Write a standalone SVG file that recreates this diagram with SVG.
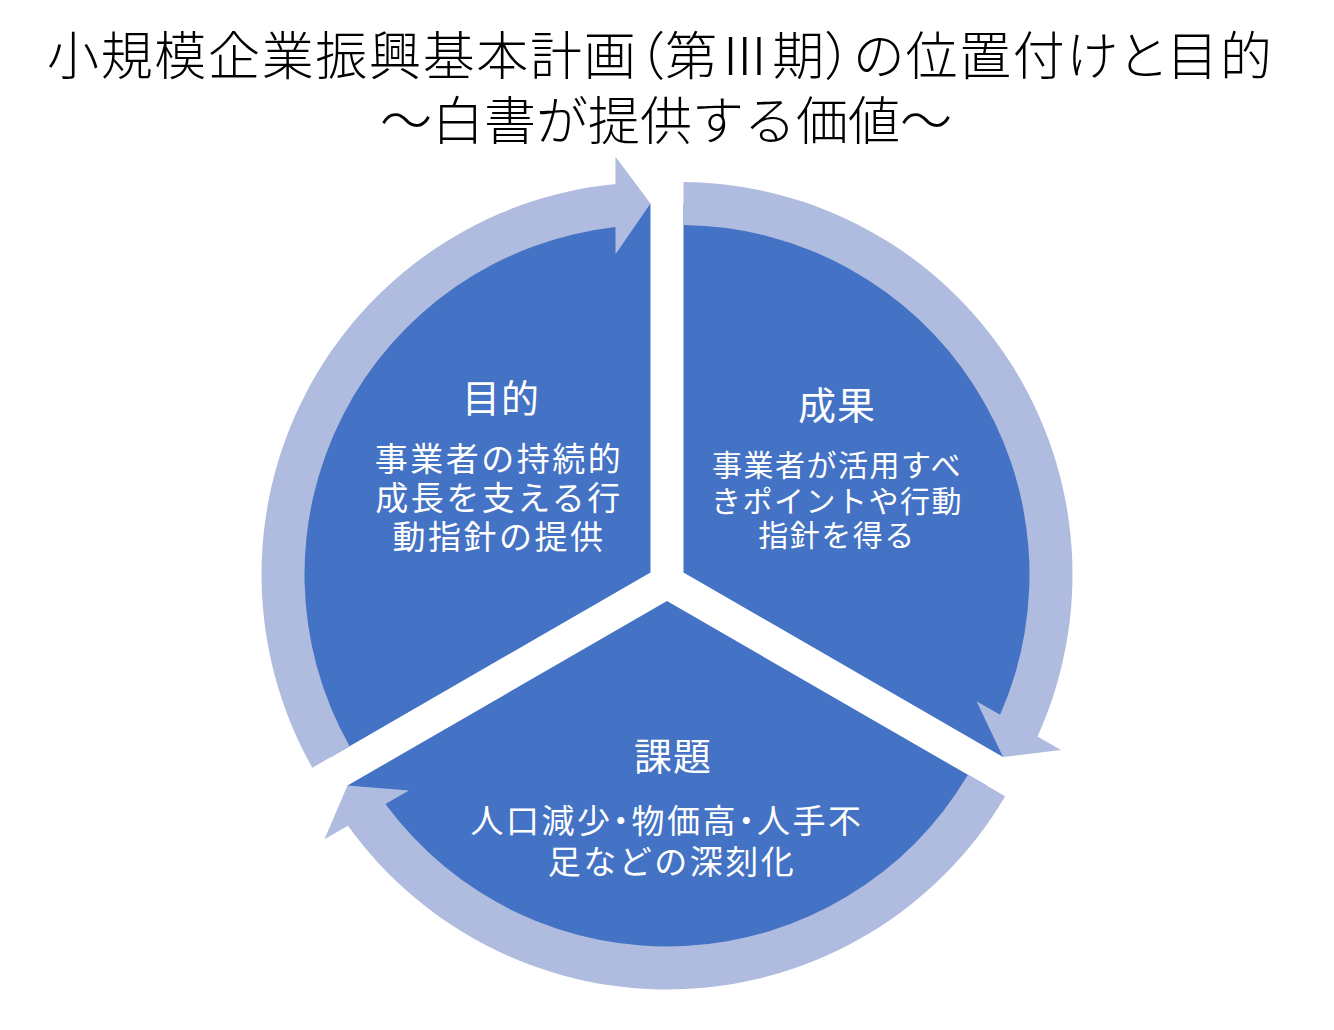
<svg xmlns="http://www.w3.org/2000/svg" width="1334" height="1030" viewBox="0 0 1334 1030">
<style>
.seg{fill:#4472C4}
.arr{fill:#B0BCDF}
.title{font-family:"Noto Sans CJK JP","Noto Sans CJK SC",sans-serif;font-size:52px;font-weight:300;fill:#000}
.hd{font-family:"Noto Sans CJK JP","Noto Sans CJK SC",sans-serif;font-size:38px;fill:#fff;text-anchor:middle;letter-spacing:1px}
.bd{font-family:"Noto Sans CJK JP","Noto Sans CJK SC",sans-serif;font-size:33px;fill:#fff;text-anchor:middle;letter-spacing:2.5px}
.bds{font-family:"Noto Sans CJK JP","Noto Sans CJK SC",sans-serif;font-size:30px;fill:#fff;text-anchor:middle;letter-spacing:1.5px}
.palt{font-feature-settings:"palt"}
</style>
<defs>
<path id="sector" d="M 683.5 572.47 L 683.5 203.51 A 368.96 368.96 0 0 1 1003.03 756.95 Z"/>
<path id="arrow" d="M 683.5 182.02 A 392.5 392.5 0 0 1 1037.52 736.45 L 1061.01 750.01 L 1003.03 756.95 L 976.54 701.25 L 1000.08 714.84 A 349.5 349.5 0 0 0 683.5 225.02 Z"/>
</defs>
<rect width="1334" height="1030" fill="#fff"/>
<g id="title">
<text class="title palt" x="47" y="75" textLength="1225" lengthAdjust="spacing">小規模企業振興基本計画（第Ⅲ期）の位置付けと目的</text>
<text class="title" x="666" y="140" text-anchor="middle">～白書が提供する価値～</text>
</g>
<g id="node-purpose">
<use href="#sector" class="seg" transform="rotate(240 667 582)"/>
</g>
<g id="node-result">
<use href="#sector" class="seg"/>
</g>
<g id="node-issue">
<use href="#sector" class="seg" transform="rotate(120 667 582)"/>
</g>
<g id="connectors">
<use href="#arrow" class="arr"/>
<use href="#arrow" class="arr" transform="rotate(120 667 582)"/>
<use href="#arrow" class="arr" transform="rotate(240 667 582)"/>
</g>
<g id="labels-purpose">
<text class="hd" x="501" y="411.5">目的</text>
<text class="bd" x="499" y="470.5"><tspan x="499">事業者の持続的</tspan><tspan x="499" dy="39">成長を支える行</tspan><tspan x="499" dy="39">動指針の提供</tspan></text>
</g>
<g id="labels-result">
<text class="hd" x="837" y="418.5">成果</text>
<text class="bds" x="837" y="476"><tspan x="837">事業者が活用すべ</tspan><tspan x="837" dy="36">きポイントや行動</tspan><tspan x="837" dy="34">指針を得る</tspan></text>
</g>
<g id="labels-issue">
<text class="hd" x="673" y="769.5">課題</text>
<text class="bd" x="667" y="832.5"><tspan class="palt" x="667">人口減少・物価高・人手不</tspan><tspan x="672" dy="41">足などの深刻化</tspan></text>
</g>
</svg>
